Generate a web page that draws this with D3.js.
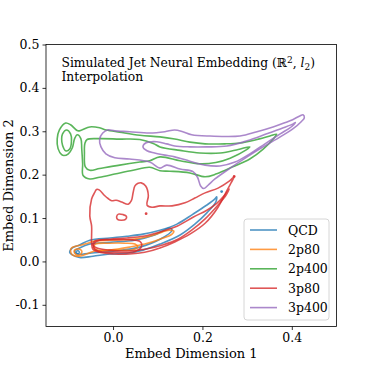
<!DOCTYPE html>
<html>
<head>
<meta charset="utf-8">
<script src="https://cdn.jsdelivr.net/npm/d3@7"></script>
<style>
  body { margin: 0; background: #fff; }
  text { font-family: "DejaVu Serif", serif; fill: #000; }
</style>
</head>
<body>
<svg id="chart" width="374" height="374"></svg>
<script>
// class names and colours (matplotlib tab10)
const classes = ["QCD", "2p80", "2p400", "3p80", "3p400"];
const colors = ["#1f77b4", "#ff7f0e", "#2ca02c", "#d62728", "#9467bd"];

const xTicks = [0.0, 0.2, 0.4];
const yTicks = [-0.1, 0.0, 0.1, 0.2, 0.3, 0.4, 0.5];

// KDE contour levels, [embed1, embed2]
const qcdContours = [
  [[-0.097,0.021],[-0.091,0.031],[-0.075,0.038],[-0.052,0.049],[-0.007,0.054],[0.031,0.058],[0.067,0.063],[0.105,0.072],[0.143,0.086],[0.179,0.109],[0.210,0.130],[0.228,0.144],[0.232,0.149],[0.230,0.137],[0.210,0.112],[0.183,0.086],[0.150,0.061],[0.105,0.040],[0.067,0.026],[0.031,0.019],[-0.007,0.017],[-0.045,0.012],[-0.075,0.009],[-0.091,0.015]],
  [[-0.086,0.024],[-0.075,0.031],[-0.052,0.040],[-0.007,0.044],[0.049,0.049],[0.093,0.061],[0.127,0.077],[0.132,0.072],[0.105,0.051],[0.060,0.033],[0.004,0.024],[-0.052,0.019],[-0.079,0.017]],
  [[-0.083,0.021],[-0.079,0.025],[-0.075,0.021],[-0.079,0.018]]
];
const qcdDots = [[0.243,0.161]];

const p2p80Contours = [
  [[-0.093,0.031],[-0.084,0.035],[-0.070,0.038],[-0.057,0.042],[-0.041,0.047],[-0.007,0.049],[0.044,0.051],[0.082,0.058],[0.111,0.068],[0.127,0.072],[0.136,0.070],[0.132,0.063],[0.105,0.051],[0.071,0.040],[0.037,0.033],[-0.007,0.026],[-0.041,0.024],[-0.059,0.017],[-0.075,0.012],[-0.091,0.015],[-0.095,0.024]],
  [[-0.086,0.026],[-0.079,0.029],[-0.071,0.026],[-0.070,0.020],[-0.077,0.014],[-0.084,0.017],[-0.087,0.022]],
  [[-0.039,0.040],[-0.007,0.042],[0.026,0.042],[0.049,0.040],[0.055,0.033],[0.044,0.027],[0.004,0.026],[-0.034,0.026],[-0.043,0.033]]
];
const p2p80Dots = [];

const p2p400Contours = [
  [[-0.115,0.246],[-0.123,0.260],[-0.125,0.282],[-0.120,0.303],[-0.106,0.319],[-0.095,0.315],[-0.079,0.301],[-0.070,0.303],[-0.052,0.310],[-0.030,0.308],[-0.015,0.303],[0.015,0.298],[0.060,0.291],[0.105,0.287],[0.138,0.282],[0.172,0.275],[0.206,0.271],[0.250,0.271],[0.284,0.273],[0.318,0.280],[0.351,0.289],[0.366,0.293],[0.360,0.284],[0.336,0.259],[0.306,0.236],[0.268,0.218],[0.232,0.202],[0.206,0.195],[0.172,0.204],[0.127,0.208],[0.105,0.209],[0.082,0.217],[0.045,0.210],[0.007,0.202],[-0.030,0.194],[-0.052,0.190],[-0.067,0.198],[-0.068,0.225],[-0.070,0.259],[-0.072,0.283],[-0.080,0.292],[-0.086,0.283],[-0.091,0.262],[-0.100,0.248],[-0.110,0.244]],
  [[-0.058,0.281],[-0.030,0.283],[0.015,0.282],[0.060,0.281],[0.090,0.272],[0.105,0.264],[0.150,0.256],[0.194,0.250],[0.240,0.250],[0.280,0.258],[0.306,0.264],[0.298,0.257],[0.262,0.238],[0.230,0.228],[0.194,0.225],[0.150,0.232],[0.105,0.241],[0.082,0.232],[0.060,0.229],[0.015,0.222],[-0.030,0.214],[-0.052,0.210],[-0.062,0.218],[-0.064,0.250],[-0.063,0.272]],
  [[-0.113,0.294],[-0.104,0.303],[-0.095,0.294],[-0.093,0.278],[-0.097,0.259],[-0.106,0.255],[-0.113,0.268],[-0.115,0.282]]
];
const p2p400Dots = [];

const p3p80Contours = [
  [[-0.045,0.028],[-0.030,0.021],[0.004,0.017],[0.037,0.017],[0.071,0.021],[0.105,0.031],[0.138,0.045],[0.172,0.063],[0.206,0.088],[0.235,0.125],[0.253,0.160],[0.264,0.181],[0.271,0.195],[0.260,0.185],[0.235,0.169],[0.206,0.158],[0.183,0.146],[0.161,0.135],[0.132,0.128],[0.105,0.128],[0.087,0.125],[0.076,0.130],[0.079,0.152],[0.073,0.174],[0.063,0.181],[0.056,0.180],[0.049,0.174],[0.045,0.159],[0.041,0.140],[0.034,0.132],[0.019,0.137],[0.007,0.141],[-0.003,0.140],[-0.011,0.145],[-0.019,0.152],[-0.031,0.165],[-0.037,0.166],[-0.041,0.159],[-0.048,0.144],[-0.052,0.105],[-0.048,0.082],[-0.048,0.059],[-0.048,0.042]],
  [[-0.041,0.047],[-0.007,0.051],[0.031,0.054],[0.067,0.058],[0.105,0.068],[0.143,0.081],[0.179,0.102],[0.210,0.118],[0.232,0.134],[0.250,0.153],[0.260,0.167],[0.253,0.153],[0.235,0.130],[0.206,0.098],[0.176,0.072],[0.145,0.051],[0.111,0.038],[0.071,0.028],[0.031,0.024],[-0.007,0.026],[-0.036,0.031],[-0.045,0.038]],
  [[-0.041,0.043],[-0.030,0.049],[0.004,0.050],[0.037,0.050],[0.060,0.046],[0.064,0.035],[0.049,0.023],[0.004,0.021],[-0.034,0.024],[-0.044,0.033]],
  [[0.008,0.103],[0.012,0.109],[0.022,0.108],[0.030,0.104],[0.028,0.097],[0.018,0.095],[0.010,0.097]]
];
const p3p80Dots = [[0.074,0.110],[0.271,0.196]];

const p3p400Contours = [
  [[-0.030,0.282],[-0.023,0.296],[-0.012,0.303],[0.004,0.301],[0.037,0.299],[0.082,0.296],[0.116,0.299],[0.138,0.303],[0.156,0.299],[0.176,0.292],[0.217,0.289],[0.284,0.289],[0.322,0.299],[0.358,0.310],[0.396,0.324],[0.419,0.336],[0.425,0.338],[0.428,0.331],[0.421,0.322],[0.403,0.306],[0.374,0.287],[0.336,0.264],[0.300,0.241],[0.262,0.215],[0.228,0.190],[0.212,0.175],[0.203,0.168],[0.196,0.174],[0.189,0.194],[0.179,0.207],[0.150,0.213],[0.120,0.222],[0.105,0.215],[0.082,0.229],[0.037,0.236],[0.004,0.239],[-0.016,0.248],[-0.027,0.264]],
  [[0.067,0.264],[0.073,0.273],[0.098,0.276],[0.120,0.271],[0.138,0.266],[0.172,0.264],[0.210,0.264],[0.255,0.266],[0.300,0.278],[0.344,0.294],[0.381,0.308],[0.403,0.317],[0.408,0.320],[0.400,0.311],[0.374,0.294],[0.340,0.271],[0.306,0.248],[0.273,0.229],[0.239,0.220],[0.206,0.222],[0.172,0.231],[0.138,0.241],[0.116,0.245],[0.093,0.250],[0.076,0.255]]
];
const p3p400Dots = [];

const contours = [qcdContours, p2p80Contours, p2p400Contours, p3p80Contours, p3p400Contours];
const dots = [qcdDots, p2p80Dots, p2p400Dots, p3p80Dots, p3p400Dots];

const margin = { top: 44.5, right: 37.5, bottom: 47.5, left: 46 };
const W = 374, H = 374;
const svg = d3.select("#chart");

const x = d3.scaleLinear().domain([-0.15, 0.5]).range([margin.left, W - margin.right]);
const y = d3.scaleLinear().domain([-0.15, 0.5]).range([H - margin.bottom, margin.top]);

svg.append("clipPath").attr("id", "plotClip")
  .append("rect")
  .attr("x", margin.left).attr("y", margin.top)
  .attr("width", W - margin.left - margin.right)
  .attr("height", H - margin.top - margin.bottom);

const line = d3.line()
  .x((d) => x(d[0]))
  .y((d) => y(d[1]))
  .curve(d3.curveCatmullRomClosed.alpha(0.5));

const plot = svg.append("g").attr("clip-path", "url(#plotClip)");

classes.forEach((c, i) => {
  const g = plot.append("g").attr("class", "cls-" + i);
  g.selectAll("path")
    .data(contours[i])
    .join("path")
    .attr("d", line)
    .attr("fill", "none")
    .attr("stroke", colors[i])
    .attr("stroke-opacity", 0.78)
    .attr("stroke-width", 1.6)
    .attr("stroke-linejoin", "round");
  g.selectAll("circle")
    .data(dots[i])
    .join("circle")
    .attr("cx", (d) => x(d[0]))
    .attr("cy", (d) => y(d[1]))
    .attr("r", 1.4)
    .attr("fill", colors[i])
    .attr("fill-opacity", 0.85);
});

// axes
const xAxis = d3.axisBottom(x).tickValues(xTicks).tickSize(3.5).tickPadding(3)
  .tickFormat(d3.format(".1f"));
const yAxis = d3.axisLeft(y).tickValues(yTicks).tickSize(3.5).tickPadding(3)
  .tickFormat((d) => d3.format(".1f")(d).replace("−", "-"));

const gx = svg.append("g").attr("transform", `translate(0,${H - margin.bottom})`).call(xAxis);
const gy = svg.append("g").attr("transform", `translate(${margin.left},0)`).call(yAxis);
[gx, gy].forEach((g) => {
  g.select(".domain").remove();
  g.selectAll("line").attr("stroke", "#000").attr("stroke-width", 0.8);
  g.selectAll("text").style("font-family", "DejaVu Serif, serif").style("font-size", "12.5px");
});

// frame
svg.append("rect")
  .attr("x", margin.left).attr("y", margin.top)
  .attr("width", W - margin.left - margin.right)
  .attr("height", H - margin.top - margin.bottom)
  .attr("fill", "none").attr("stroke", "#000").attr("stroke-width", 0.8);

// axis labels
svg.append("text")
  .attr("x", (margin.left + W - margin.right) / 2)
  .attr("y", 358)
  .attr("text-anchor", "middle")
  .style("font-size", "13px")
  .text("Embed Dimension 1");
svg.append("text")
  .attr("transform", `translate(13,${(margin.top + H - margin.bottom) / 2}) rotate(-90)`)
  .attr("text-anchor", "middle")
  .style("font-size", "13px")
  .text("Embed Dimension 2");

// title inside the plot
const title = svg.append("text").attr("x", 61.5).attr("y", 67).style("font-size", "12.3px");
title.append("tspan").text("Simulated Jet Neural Embedding (");
title.append("tspan").text("ℝ");
title.append("tspan").attr("dy", -4.5).style("font-size", "9px").text("2");
title.append("tspan").attr("dy", 4.5).text(", ");
title.append("tspan").style("font-style", "italic").text("l");
title.append("tspan").attr("dy", 3).style("font-size", "9px").text("2");
title.append("tspan").attr("dy", -3).text(")");
svg.append("text").attr("x", 61.5).attr("y", 81).style("font-size", "12.3px").text("Interpolation");

// legend
const lg = svg.append("g").attr("transform", "translate(244,219)");
lg.append("rect")
  .attr("width", 85).attr("height", 101)
  .attr("rx", 3)
  .attr("fill", "#fff").attr("fill-opacity", 0.8)
  .attr("stroke", "#ccc").attr("stroke-width", 0.8);
const rows = lg.selectAll("g.row")
  .data(classes)
  .join("g")
  .attr("class", "row")
  .attr("transform", (d, i) => `translate(0,${11 + i * 19.4})`);
rows.append("line")
  .attr("x1", 6).attr("x2", 33)
  .attr("stroke", (d, i) => colors[i])
  .attr("stroke-opacity", 0.78)
  .attr("stroke-width", 1.6);
rows.append("text")
  .attr("x", 44).attr("y", 4.5)
  .style("font-size", "12.5px")
  .text((d) => d);
</script>
</body>
</html>
